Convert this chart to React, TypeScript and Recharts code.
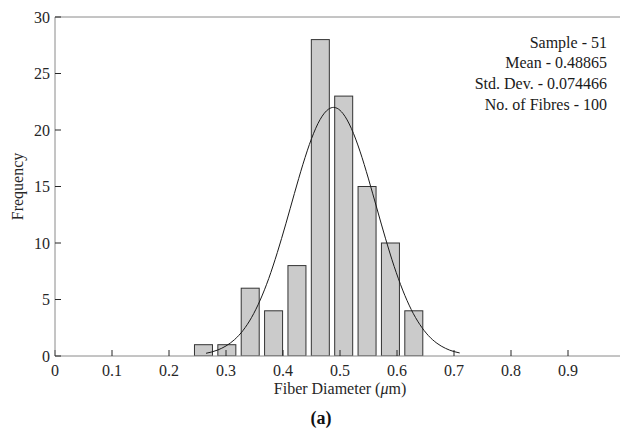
import { ComposedChart, Bar, Line, XAxis, YAxis, Label } from "recharts";

// histogram bins (centre of each bin) and fibre counts
const binCenters = [0.2605, 0.3015, 0.3425, 0.3835, 0.4245, 0.4655, 0.5065, 0.5475, 0.5885, 0.6295];
const binCounts = [1, 1, 6, 4, 8, 28, 23, 15, 10, 4];

// fitted normal curve
const fitX = [
  0.265, 0.285, 0.3, 0.315, 0.33, 0.345, 0.36, 0.375, 0.39, 0.405, 0.42, 0.435, 0.45, 0.465, 0.48,
  0.4887, 0.495, 0.505, 0.52, 0.535, 0.55, 0.565, 0.58, 0.595, 0.61, 0.625, 0.64, 0.655, 0.67, 0.685,
  0.7, 0.71,
];
const fitY = [
  0.24, 0.52, 0.89, 1.45, 2.27, 3.42, 4.95, 6.86, 9.15, 11.7, 14.38, 16.97, 19.23, 20.92, 21.85,
  22, 21.92, 21.47, 20.13, 18.13, 15.67, 13.01, 10.37, 7.93, 5.83, 4.11, 2.79, 1.81, 1.13, 0.68,
  0.39, 0.27,
];

const xTicks = [0, 0.1, 0.2, 0.3, 0.4, 0.5, 0.6, 0.7, 0.8, 0.9];
const yTicks = [0, 5, 10, 15, 20, 25, 30];

const statsLines = ["Sample - 51", "Mean - 0.48865", "Std. Dev. - 0.074466", "No. of Fibres - 100"];

const FONT = '"Liberation Serif", "Times New Roman", serif';
const TEXT = "#262626";
const FRAME = "#8a8a8a";
const BAR_W = 18;

function YTitle(props: any) {
  const vb = props.viewBox;
  const x = vb.x + 23;
  const y = vb.y + vb.height / 2;
  return (
    <text x={x} y={y} transform={`rotate(-90, ${x}, ${y})`} textAnchor="middle" fontSize={16} fill={TEXT} fontFamily={FONT}>
      Frequency
    </text>
  );
}

function XTitle(props: any) {
  const vb = props.viewBox;
  const cx = vb.x + vb.width / 2;
  return (
    <g fontFamily={FONT} fill={TEXT}>
      <text x={cx} y={vb.y + 38} textAnchor="middle" fontSize={16}>
        Fiber Diameter (<tspan fontStyle="italic">μ</tspan>m)
      </text>
      <text x={cx - 19} y={vb.y + 68} textAnchor="middle" fontSize={18} fontWeight="bold" fill="#111">
        (a)
      </text>
    </g>
  );
}

function Stats(props: any) {
  const vb = props.viewBox;
  const right = vb.x + vb.width - 18;
  const top = vb.y + vb.height;
  return (
    <g fontFamily={FONT} fontSize={16} fill="#1a1a1a">
      {statsLines.map((s, i) => (
        <text key={s} x={right} y={top + 30.5 + i * 20.7} textAnchor="end">
          {s}
        </text>
      ))}
    </g>
  );
}

// histogram bar drawn around the scaled bin centre
function BinBar(props: any) {
  const { x, y, width, height } = props;
  if (height == null || height <= 0) return null;
  const cx = x + (width || 0) / 2;
  return <rect x={cx - BAR_W / 2} y={y} width={BAR_W} height={height} fill="#cbcbcb" stroke="#333" strokeWidth={1} />;
}

export default function App() {
  const bins = binCenters.map((x, i) => ({ x, count: binCounts[i] }));
  const fit = fitX.map((x, i) => ({ x, fit: fitY[i] }));

  return (
    <div
      style={{
        position: "fixed",
        left: 0,
        top: 0,
        width: 620,
        height: 432,
        overflow: "hidden",
        background: "#fff",
        fontFamily: FONT,
      }}
    >
      <ComposedChart width={640} height={432} data={bins} margin={{ top: 16, right: 14, bottom: 0, left: 0 }}>
        <XAxis
          xAxisId="b"
          type="number"
          dataKey="x"
          domain={[0, 1]}
          allowDataOverflow
          ticks={xTicks}
          tickFormatter={(v: number) => String(v)}
          height={76}
          tickSize={-6}
          tickMargin={15}
          axisLine={{ stroke: FRAME }}
          tickLine={{ stroke: TEXT }}
          tick={{ fontSize: 16, fill: TEXT, fontFamily: FONT }}
        >
          <Label content={XTitle} />
        </XAxis>
        <XAxis
          xAxisId="t"
          orientation="top"
          type="number"
          dataKey="x"
          domain={[0, 1]}
          allowDataOverflow
          ticks={xTicks}
          tick={false}
          height={1}
          tickSize={-6}
          axisLine={{ stroke: FRAME }}
          tickLine={{ stroke: TEXT }}
        >
          <Label content={Stats} />
        </XAxis>
        <YAxis
          yAxisId="l"
          type="number"
          domain={[0, 30]}
          allowDataOverflow
          ticks={yTicks}
          width={55}
          tickSize={-6}
          tickMargin={11}
          axisLine={{ stroke: FRAME }}
          tickLine={{ stroke: TEXT }}
          tick={{ fontSize: 16, fill: TEXT, fontFamily: FONT }}
        >
          <Label content={YTitle} />
        </YAxis>
        <YAxis
          yAxisId="r"
          orientation="right"
          type="number"
          domain={[0, 30]}
          allowDataOverflow
          ticks={yTicks}
          width={1}
          tick={false}
          tickSize={-6}
          axisLine={{ stroke: FRAME }}
          tickLine={{ stroke: TEXT }}
        />
        <Bar
          xAxisId="b"
          yAxisId="l"
          dataKey="count"
          barSize={BAR_W}
          shape={BinBar}
          fill="#cbcbcb"
          stroke="#333"
          isAnimationActive={false}
        />
        <Line
          xAxisId="b"
          yAxisId="l"
          data={fit}
          dataKey="fit"
          type="monotone"
          dot={false}
          stroke="#1a1a1a"
          strokeWidth={1}
          isAnimationActive={false}
        />
      </ComposedChart>
    </div>
  );
}
